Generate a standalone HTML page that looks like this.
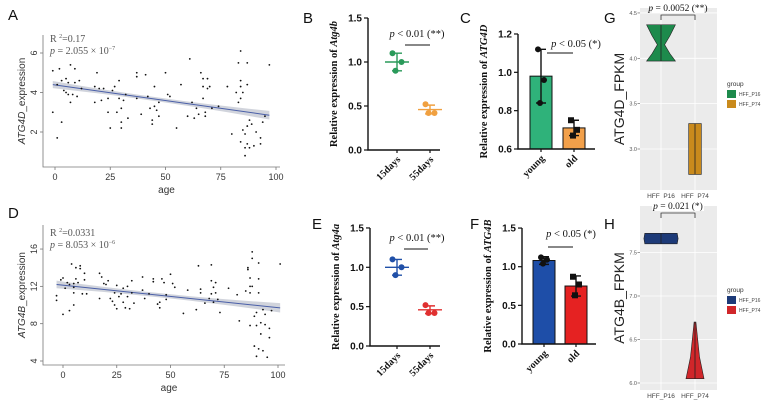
<!DOCTYPE html>
<html><head><meta charset="utf-8"><style>
html,body{margin:0;padding:0;background:#fff}
svg{display:block}
</style></head><body>
<svg id="fig" width="764" height="401" viewBox="0 0 764 401" xmlns="http://www.w3.org/2000/svg"></svg>
<script>
// ---- data ----
const scatterA = [[-1,5.1],[-1,3.0],[1,1.7],[2,5.2],[1,4.4],[3,4.6],[3,2.5],[4,4.1],[5,4.0],[5,4.7],[6,3.9],[6,4.5],[7,5.4],[7,3.5],[8,3.9],[9,4.5],[9,5.2],[10,3.8],[11,4.6],[12,4.2],[18,3.5],[18,4.3],[19,5.0],[20,4.2],[21,3.6],[22,4.2],[24,3.7],[24,3.0],[25,2.2],[26,4.1],[27,4.3],[28,3.0],[29,3.7],[29,4.6],[30,3.2],[30,2.5],[30,2.2],[31,3.6],[32,3.9],[33,2.7],[37,3.7],[37,4.8],[37,5.0],[39,2.9],[41,4.9],[42,3.8],[43,3.2],[44,2.6],[44,2.4],[45,3.3],[45,4.3],[46,3.1],[47,3.5],[47,2.8],[50,5.0],[51,3.9],[52,3.8],[55,2.2],[57,4.4],[60,2.8],[61,5.7],[62,3.5],[63,2.7],[64,3.2],[65,2.9],[66,5.0],[67,4.7],[67,4.3],[67,3.7],[68,3.0],[68,2.8],[69,4.7],[69,4.2],[70,4.3],[71,3.2],[74,3.3],[78,4.3],[80,1.9],[82,4.0],[83,5.5],[83,3.5],[84,6.1],[84,4.6],[84,4.3],[84,3.7],[84,1.5],[85,4.0],[85,2.1],[86,0.8],[86,1.9],[86,1.2],[87,5.5],[87,4.4],[87,2.3],[87,1.4],[88,2.6],[88,1.2],[89,2.4],[90,1.3],[91,2.0],[93,1.4],[93,1.7],[94,2.5],[95,2.8],[97,5.4]];
const fitA = [[-1,4.4],[97,2.85]];
const scatterD = [[-3,11],[-3,10.5],[-1,12.7],[0,12.9],[0,9],[1,11.8],[2,12.4],[3,12.2],[3,9.4],[4,14.4],[5,11.9],[5,12.3],[5,11.3],[5,10],[6,14],[6,12.8],[7,12.4],[8,13.9],[8,14.2],[9,11.2],[10,12.7],[10,13.4],[11,11.2],[17,13.4],[17,10.7],[18,13],[19,12.3],[20,12.2],[21,12.6],[22,10.7],[23,10.4],[24,11.3],[24,10],[25,9.6],[25,12.1],[26,10.9],[27,11.2],[28,10.3],[28,11.8],[29,9.7],[30,10.9],[30,12],[31,9.6],[32,11.3],[32,12.6],[33,10.2],[37,13],[37,11.6],[38,10.7],[40,11.2],[42,12.8],[42,12.5],[44,10.1],[45,9.7],[45,10.3],[46,12.8],[47,12.4],[48,11.1],[48,10.6],[50,13.3],[51,12.3],[52,11.9],[56,9.1],[58,11.6],[62,9.5],[63,14.2],[64,11.7],[64,11.3],[66,10.2],[68,10.7],[69,11.2],[69,12.6],[69,14.3],[70,11.9],[70,10.3],[71,11.3],[71,12.4],[72,10.6],[73,9.2],[77,11.8],[81,11.1],[82,8.3],[85,11.5],[86,13.8],[86,14],[87,12.9],[87,12],[87,11.3],[87,7.8],[88,15.7],[88,15],[88,12],[89,8.8],[89,5.6],[90,4.5],[90,7.8],[90,9.2],[91,14.5],[91,12.8],[91,11.3],[91,5.3],[92,8.1],[92,6.9],[93,5.1],[93,9.5],[94,9],[94,7.9],[95,4.4],[96,7.5],[96,6.5],[97,9.4],[101,14.4]];
const fitD = [[-3,12.2],[101,9.7]];
const ageTicks = [0,25,50,75,100];
const ticksA = [2,4,6];
const ticksD = [4,8,12,16];
const dotCats = ["15days","55days"];
const barCats = ["young","old"];
const ptsB = [[1.1,1.0,0.9],[0.52,0.42,0.42]];
const meanB = [1.0,0.46];
const sdB = [0.1,0.05];
const ptsE = [[1.1,1.0,0.9],[0.52,0.42,0.42]];
const meanE = [1.0,0.46];
const sdE = [0.1,0.05];
const ptsC = [[1.12,0.96,0.84],[0.75,0.70,0.67]];
const meanC = [0.98,0.71];
const sdC = [0.14,0.04];
const ptsF = [[1.12,1.09,1.04],[0.87,0.77,0.63]];
const meanF = [1.08,0.75];
const sdF = [0.05,0.13];
const ticksBE = [0.0,0.5,1.0,1.5];
const ticksC = [0.6,0.8,1.0,1.2];
const violinCats = ["HFF_P16","HFF_P74"];
const violinG16 = [[3.97,0.16],[4.05,0.10],[4.15,0.04],[4.25,0.10],[4.37,0.16]];
const violinG74 = [[2.72,0.07],[3.0,0.07],[3.28,0.07]];
const violinH16 = [[7.60,0.18],[7.66,0.19],[7.72,0.18]];
const violinH74 = [[6.05,0.10],[6.3,0.05],[6.7,0.01]];
const ticksG = [3.0,3.5,4.0,4.5];
const ticksH = [6.0,6.5,7.0,7.5];

const NS="http://www.w3.org/2000/svg";
const svg=document.getElementById('fig');
function mk(tag,attrs,parent){const e=document.createElementNS(NS,tag);for(const k in attrs)e.setAttribute(k,attrs[k]);(parent||svg).appendChild(e);return e;}
function txt(s,attrs){const e=mk('text',attrs);e.textContent=s;return e;}
function html(s,attrs){const e=mk('text',attrs);e.innerHTML=s;return e;}

[["A",8,20],["B",303,23],["C",460,23],["G",604,23],["D",8,218],["E",312,229],["F",470,229],["H",604,229]].forEach(l=>{
 const t=txt(l[0],{x:l[1],y:l[2],'font-size':15,'font-family':'Liberation Sans, sans-serif',fill:'#111'});
 
 
});

function scatter(pts,fit,xs,ys,ticks,axTop,axBot,axRight,title,stat1,stat2,statY,bandW,id){
 const g=mk('g',{});
 
 
 const n=20,up=[],dn=[];
 for(let i=0;i<=n;i++){const a=fit[0][0]+(fit[1][0]-fit[0][0])*i/n;const v=fit[0][1]+(fit[1][1]-fit[0][1])*i/n;const t=(i/n-0.45)/0.55;const w=bandW*(0.45+0.55*t*t);up.push(xs(a)+','+ys(v+w));dn.unshift(xs(a)+','+ys(v-w));}
 const band=mk('polygon',{points:up.concat(dn).join(' '),fill:'#c9ccd6',opacity:0.85},g);
 
 
 const ln=mk('line',{x1:xs(fit[0][0]),y1:ys(fit[0][1]),x2:xs(fit[1][0]),y2:ys(fit[1][1]),stroke:'#4a5fa8','stroke-width':1},g);
 
 
 pts.forEach(p=>{const c=mk('circle',{cx:xs(p[0]),cy:ys(p[1]),r:0.9,fill:'#111'},g);
  
  });
 const ax=mk('path',{d:`M43,${axTop}V${axBot}H${axRight}`,fill:'none',stroke:'#777','stroke-width':0.8},g);
 
 
 ageTicks.forEach(t=>{mk('line',{x1:xs(t),x2:xs(t),y1:axBot,y2:axBot+3,stroke:'#777','stroke-width':0.8},g);
  const l=txt(String(t),{x:xs(t),y:axBot+13,'text-anchor':'middle','font-size':9,'font-family':'Liberation Sans, sans-serif',fill:'#333'});
  
  });
 ticks.forEach(t=>{mk('line',{x1:40,x2:43,y1:ys(t),y2:ys(t),stroke:'#777','stroke-width':0.8},g);
  const l=txt(String(t),{x:0,y:0,transform:`translate(37,${ys(t)}) rotate(-90)`,'text-anchor':'middle','font-size':9,'font-family':'Liberation Sans, sans-serif',fill:'#333'});
  
  });
 const xt=txt('age',{x:(43+axRight)/2+5,y:axBot+26,'text-anchor':'middle','font-size':10,'font-family':'Liberation Sans, sans-serif',fill:'#333'});
 
 
 const yt=html(`<tspan font-style="italic">${title}</tspan>_expression`,{x:0,y:0,transform:`translate(25,${(axTop+axBot)/2}) rotate(-90)`,'text-anchor':'middle','font-size':10,'font-family':'Liberation Sans, sans-serif',fill:'#333'});
 
 
 const s1=html(stat1,{x:50,y:statY,'font-size':10,'font-family':'Liberation Serif, serif',fill:'#555'});
 
 
 const s2=html(stat2,{x:50,y:statY+12,'font-size':10,'font-family':'Liberation Serif, serif',fill:'#555'});
 
 
}
scatter(scatterA,fitA,v=>55+v*2.21,v=>132-(v-2)*19.75,ticksA,35,167,280,'ATG4D',
 'R <tspan font-size="6" dy="-4">2</tspan><tspan dy="4">=0.17</tspan>',
 '<tspan font-style="italic">p</tspan> = 2.055 × 10<tspan font-size="6" dy="-4">−7</tspan>',42,0.22,'a');
scatter(scatterD,fitD,v=>63+v*2.15,v=>361-(v-4)*9.33,ticksD,225,365,285,'ATG4B',
 'R <tspan font-size="6" dy="-4">2</tspan><tspan dy="4">=0.0331</tspan>',
 '<tspan font-style="italic">p</tspan> = 8.053 × 10<tspan font-size="6" dy="-4">−6</tspan>',236,0.5,'d');

function prism(kind,pts,mean,sd,cats,ticks,ys,axX,xpos,axRight,colors,gene,ptxt,pX,pY,lx1,lx2,lY,id){
 const g=mk('g',{});
 
 
 const y0=ys(ticks[0]),y1=ys(ticks[ticks.length-1]);
 cats.forEach((c,i)=>{
  const x=xpos[i];
  if(kind==='bar'){const b=mk('rect',{x:x-11,y:ys(mean[i]),width:22,height:y0-ys(mean[i]),fill:colors[i],stroke:'#111','stroke-width':1},g);
   
   }
  const col=kind==='bar'?'#111':colors[i];
  const eb=mk('path',{d:`M${x},${ys(mean[i]+sd[i])}V${ys(mean[i]-sd[i])}M${x-5},${ys(mean[i]+sd[i])}H${x+5}M${x-5},${ys(mean[i]-sd[i])}H${x+5}`+(kind==='dot'?`M${x-12},${ys(mean[i])}H${x+12}`:''),stroke:col,'stroke-width':1.4,fill:'none'},g);
  
  
  pts[i].forEach((v,j)=>{const dx=[-3,3,-1][j]*(kind==='bar'?1:1.5);
   let p;
   if(kind==='bar'&&i===1){p=mk('rect',{x:x+dx-3,y:ys(v)-3,width:6,height:6,fill:'#111'},g);}
   else{p=mk('circle',{cx:x+dx,cy:ys(v),r:3,fill:col},g);}
   
   });
  const cl=txt(c,{x:0,y:0,transform:`translate(${x+4},${y0+10}) rotate(-45)`,'text-anchor':'end','font-size':10,'font-weight':'bold','font-family':'Liberation Serif, serif',fill:'#111'});
  
  
 });
 const ax=mk('path',{d:`M${axX},${y1}V${y0}H${axRight}`,fill:'none',stroke:'#111','stroke-width':1.4},g);
 
 
 xpos.forEach(x=>mk('line',{x1:x,x2:x,y1:y0,y2:y0+3,stroke:'#111','stroke-width':1.2},g));
 ticks.forEach(t=>{mk('line',{x1:axX-4,x2:axX,y1:ys(t),y2:ys(t),stroke:'#111','stroke-width':1.2},g);
  const l=txt(t.toFixed(1),{x:axX-6,y:ys(t)+3.5,'text-anchor':'end','font-size':10,'font-weight':'bold','font-family':'Liberation Sans, sans-serif',fill:'#111'});
  
  });
 const yt=html(`Relative expression of <tspan font-style="italic">${gene}</tspan>`,{x:0,y:0,transform:`translate(${axX-31},${(y0+y1)/2}) rotate(-90)`,'text-anchor':'middle','font-size':10.5,'font-weight':'bold','font-family':'Liberation Serif, serif',fill:'#111'});
 
 
 const pt=html(`<tspan font-style="italic">p</tspan> ${ptxt}`,{x:pX,y:pY,'text-anchor':'middle','font-size':10.5,'font-family':'Liberation Serif, serif',fill:'#111'});
 
 
 const sl=mk('line',{x1:lx1,x2:lx2,y1:lY,y2:lY,stroke:'#111','stroke-width':1},g);
 
 
}
prism('dot',ptsB,meanB,sdB,dotCats,ticksBE,v=>150-v*88,368,[397,430],440,['#2a9a5a','#f0a040'],'Atg4b','&lt; 0.01 (**)',417,37,405,430,45,'b');
prism('bar',ptsC,meanC,sdC,barCats,ticksC,v=>149-(v-0.6)*191.7,518,[541,574],595,['#2fb27a','#f2a04a'],'ATG4D','&lt; 0.05 (*)',576,47,547,573,53,'c');
prism('dot',ptsE,meanE,sdE,dotCats,ticksBE,v=>346-v*78.7,370,[397,430],440,['#2050a8','#e03030'],'Atg4a','&lt; 0.01 (**)',417,241,404,428,249,'e');
prism('bar',ptsF,meanF,sdF,barCats,ticksBE,v=>344-v*77.3,522,[544,576],596,['#1e4ea8','#e52222'],'ATG4B','&lt; 0.05 (*)',571,237,548,573,247,'f');

function violin(v16,v74,ticks,ys,top,bot,cols,title,ptxt,legY,id){
 const g=mk('g',{});
 
 
 const bg=mk('rect',{x:640,y:top,width:77,height:bot-top,fill:'#ebebeb'},g);
 
 
 ticks.forEach(t=>{mk('line',{x1:640,x2:717,y1:ys(t),y2:ys(t),stroke:'#fff','stroke-width':0.8},g);
  mk('line',{x1:637.5,x2:640,y1:ys(t),y2:ys(t),stroke:'#555','stroke-width':0.6},g);
  const l=txt(t.toFixed(1),{x:637,y:ys(t)+2,'text-anchor':'end','font-size':5.5,'font-family':'Liberation Sans, sans-serif',fill:'#555'});
  
  });
 const xs=[661,695];
 xs.forEach((x,i)=>{mk('line',{x1:x,x2:x,y1:top,y2:bot,stroke:'#fff','stroke-width':0.8},g);
  const l=txt(violinCats[i],{x:x,y:bot+8,'text-anchor':'middle','font-size':6.5,'font-family':'Liberation Sans, sans-serif',fill:'#444'});
  
  });
 [v16,v74].forEach((sh,i)=>{const x=xs[i];const sc=90;
  const r=sh.map(p=>(x+p[1]*sc)+','+ys(p[0])),l=sh.slice().reverse().map(p=>(x-p[1]*sc)+','+ys(p[0]));
  const p=mk('polygon',{points:r.concat(l).join(' '),fill:cols[i],stroke:'#222','stroke-width':0.6},g);
  
  
  mk('line',{x1:x,x2:x,y1:ys(sh[0][0]),y2:ys(sh[sh.length-1][0]),stroke:'#222','stroke-width':0.8},g);});
 const br=mk('path',{d:`M661,${top+12}V${top+7}H695V${top+12}`,fill:'none',stroke:'#333','stroke-width':0.8},g);
 
 
 mk('rect',{x:652,y:top-8,width:52,height:13,fill:'#fff'},g);
 const pt=html(`<tspan font-style="italic">p</tspan> = ${ptxt}`,{x:678,y:top+3,'text-anchor':'middle','font-size':9.5,'font-family':'Liberation Serif, serif',fill:'#111'});
 
 
 const yt=txt(title,{x:0,y:0,transform:`translate(624,${(top+bot)/2}) rotate(-90)`,'text-anchor':'middle','font-size':14,'font-family':'Liberation Sans, sans-serif',fill:'#222'});
 
 
 const lt=txt('group',{x:727,y:legY,'font-size':6.5,'font-family':'Liberation Sans, sans-serif',fill:'#333'});
 
 
 violinCats.forEach((c,i)=>{const sw=mk('rect',{x:727,y:legY+4+i*10,width:9,height:8,fill:cols[i]},g);
  
  
  const t=txt(c,{x:739,y:legY+10+i*10,'font-size':5,'font-family':'Liberation Sans, sans-serif',fill:'#444'});
  
  });
}
violin(violinG16,violinG74,ticksG,v=>149-(v-3)*90.7,8,190,['#1d8a4c','#c98a1c'],'ATG4D_FPKM','0.0052 (**)',86,'g');
violin(violinH16,violinH74,ticksH,v=>383-(v-6)*87,206,390,['#1d3a78','#d0262a'],'ATG4B_FPKM','0.021 (*)',292,'h');
</script>
</body></html>
